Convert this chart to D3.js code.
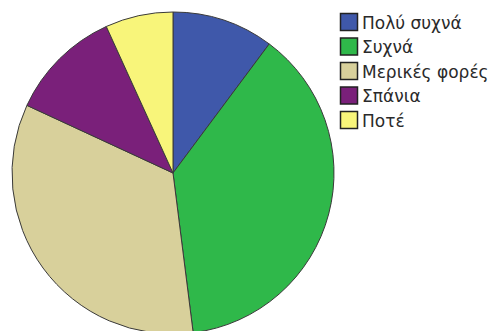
<!DOCTYPE html>
<html>
<head>
<meta charset="utf-8">
<script src="https://cdn.jsdelivr.net/npm/d3@7/dist/d3.min.js"></script>
<style>
  html, body { margin: 0; padding: 0; background: #fff; }
  svg { display: block; }
</style>
</head>
<body>
<svg id="chart" width="493" height="331"></svg>
<script>
// Answer categories and their shares (%)
const categories = ["Πολύ συχνά", "Συχνά", "Μερικές φορές", "Σπάνια", "Ποτέ"];
const shares = [10.2, 37.8, 33.9, 11.3, 6.8];
const colors = ["#3f58aa", "#2fb84a", "#d8d09b", "#7a207a", "#f8f57a"];

const svg = d3.select("#chart");
const cx = 173, cy = 173, radius = 161;

const pie = d3.pie().sort(null).value(d => d.value);
const arc = d3.arc().innerRadius(0).outerRadius(radius);

const data = categories.map((c, i) => ({ name: c, value: shares[i], color: colors[i] }));

svg.append("g")
  .attr("transform", `translate(${cx},${cy})`)
  .selectAll("path")
  .data(pie(data))
  .join("path")
  .attr("d", arc)
  .attr("fill", d => d.data.color)
  .attr("stroke", "#3a3a3a")
  .attr("stroke-width", 1);

// Legend
const legend = svg.append("g").attr("transform", "translate(340,13)");
const row = legend.selectAll("g")
  .data(data)
  .join("g")
  .attr("transform", (d, i) => `translate(0,${i * 24.5})`);

row.append("rect")
  .attr("x", 0.5).attr("y", 0.5)
  .attr("width", 17).attr("height", 17)
  .attr("fill", d => d.color)
  .attr("stroke", "#222")
  .attr("stroke-width", 1.5);

row.append("text")
  .attr("x", 22)
  .attr("y", 15.5)
  .attr("font-family", "'DejaVu Sans', sans-serif")
  .attr("font-size", 17)
  .attr("fill", "#2a2a2a")
  .text(d => d.name);
</script>
</body>
</html>
